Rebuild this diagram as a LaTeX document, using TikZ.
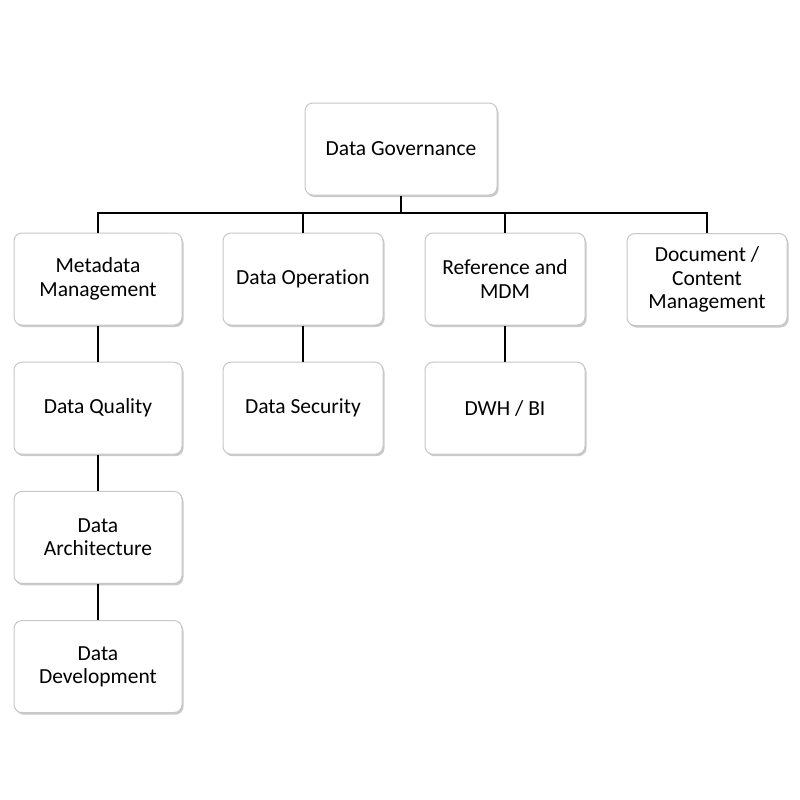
\documentclass[tikz,border=0pt]{standalone}
\usepackage{fontspec}
\setmainfont{Carlito}[Ligatures=NoCommon]
\usetikzlibrary{positioning,shadows}

\begin{document}
\begin{tikzpicture}[x=1pt,y=-1pt,node distance=36.2pt,line width=2.8pt]
 \tikzstyle{every node}=[font=\fontsize{21.5}{23.5}\selectfont]
 \tikzstyle{box}=[draw=black!22, line width=1pt, fill=white, rounded corners=8pt,
   minimum width=160pt, minimum height=92pt, align=center,
   drop shadow={shadow xshift=1.5pt, shadow yshift=-2pt, opacity=0.35, fill=black!60}]
 \useasboundingbox (0,0) rectangle (800,800);
 % top level
 \node[box, minimum width=192pt] (gov) at (401,149) {Data Governance};
 % second row
 \node[box, minimum width=168pt] (meta) at (98,279) {Metadata\\Management};
 \node[box] (oper) at (303,279) {Data Operation};
 \node[box] (ref) at (505,279) {Reference and\\MDM};
 \node[box] (doc) at (707,279.5) {Document /\\Content\\Management};
 % columns
 \node[box, minimum width=168pt] (qual) [below=of meta] {Data Quality};
 \node[box, minimum width=168pt] (arch) [below=of qual] {Data\\Architecture};
 \node[box, minimum width=168pt] (dev)  [below=of arch] {Data\\Development};
 \node[box] (sec) [below=of oper] {Data Security};
 \node[box] (dwh) [below=of ref] {DWH / BI};
 % bus
 \coordinate (bus) at (0,213);
 \draw (gov.south) -- (gov.south |- bus);
 \draw (meta.north) -- (meta.north |- bus) -| (doc.north);
 \draw (oper.north) -- (oper.north |- bus);
 \draw (ref.north) -- (ref.north |- bus);
 \path[draw]
   (meta) edge (qual)
   (qual) edge (arch)
   (arch) edge (dev)
   (oper) edge (sec)
   (ref) edge (dwh);
\end{tikzpicture}
\end{document}
